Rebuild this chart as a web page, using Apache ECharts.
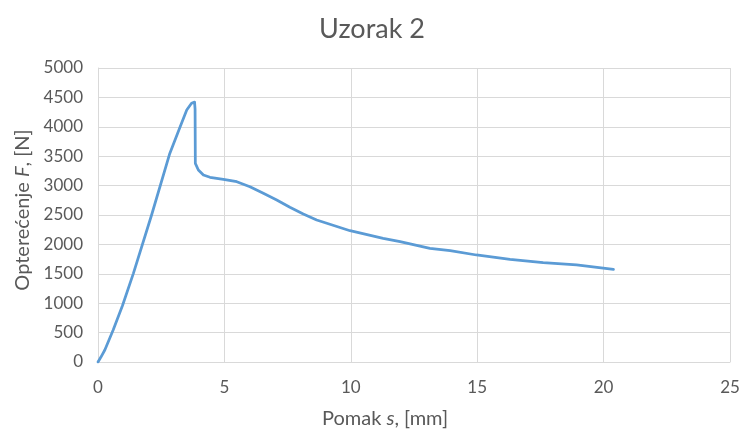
<!DOCTYPE html>
<html>
<head>
<meta charset="utf-8">
<script src="https://cdn.jsdelivr.net/npm/echarts@6/dist/echarts.min.js"></script>
<style>
  html, body { margin: 0; padding: 0; background: #ffffff; }
  #chart { width: 744px; height: 434px; }
</style>
</head>
<body>
<div id="chart"></div>
<script>
// Displacement s [mm] and load F [N] for specimen 2
const displacement = [0, 0.11, 0.27, 0.60, 0.97, 1.40, 2.12, 2.84, 3.25, 3.51, 3.70, 3.77, 3.82, 3.84, 3.85, 3.97, 4.17, 4.43, 4.96, 5.49, 6.01, 6.54, 7.07, 7.59, 8.12, 8.65, 9.05, 9.97, 11.28, 11.95, 13.13, 13.93, 14.97, 16.30, 17.61, 18.93, 20.39];
const load = [0, 80, 204, 544, 960, 1508, 2500, 3548, 4002, 4286, 4400, 4427, 4420, 4300, 3379, 3265, 3180, 3141, 3107, 3066, 2981, 2869, 2755, 2631, 2517, 2415, 2359, 2233, 2103, 2046, 1933, 1893, 1820, 1746, 1689, 1650, 1576];

const xTicks = [0, 5, 10, 15, 20, 25];
const yTicks = [0, 500, 1000, 1500, 2000, 2500, 3000, 3500, 4000, 4500, 5000];

const points = displacement.map((s, i) => [s, load[i]]);
const FONT = 'Lato, "Open Sans", sans-serif';
const TEXT = '#595959';
const GRID = '#d9d9d9';

const chart = echarts.init(document.getElementById('chart'), null, { renderer: 'canvas' });
chart.setOption({
  backgroundColor: '#ffffff',
  animation: false,
  title: {
    text: 'Uzorak 2',
    left: 'center',
    top: 11,
    textStyle: { fontFamily: FONT, fontSize: 27, fontWeight: 'normal', color: TEXT }
  },
  grid: { left: 98, right: 14, top: 68, bottom: 72, containLabel: false },
  xAxis: {
    type: 'value',
    min: xTicks[0],
    max: xTicks[xTicks.length - 1],
    interval: xTicks[1] - xTicks[0],
    name: '{n|Pomak }{i|s}{n|, [mm]}',
    nameLocation: 'middle',
    nameGap: 47,
    nameTextStyle: {
      padding: [0, 58, 0, 0],
      rich: {
        n: { fontFamily: FONT, fontSize: 20, color: TEXT },
        i: { fontFamily: FONT, fontSize: 20, color: TEXT, fontStyle: 'italic' }
      }
    },
    axisLine: { show: true, lineStyle: { color: GRID, width: 1 } },
    axisTick: { show: false },
    axisLabel: { fontFamily: FONT, fontSize: 17, color: TEXT, margin: 17, formatter: v => String(v) },
    splitLine: { show: true, lineStyle: { color: GRID, width: 1 } }
  },
  yAxis: {
    type: 'value',
    min: yTicks[0],
    max: yTicks[yTicks.length - 1],
    interval: yTicks[1] - yTicks[0],
    name: '{n|Optere\u0107enje }{i|F}{n|, [N]}',
    nameLocation: 'middle',
    nameGap: 64,
    nameRotate: 90,
    nameTextStyle: {
      padding: [0, 0, 0, 10],
      rich: {
        n: { fontFamily: FONT, fontSize: 20, color: TEXT },
        i: { fontFamily: FONT, fontSize: 20, color: TEXT, fontStyle: 'italic' }
      }
    },
    axisLine: { show: true, lineStyle: { color: GRID, width: 1 } },
    axisTick: { show: false },
    axisLabel: { fontFamily: FONT, fontSize: 17, color: TEXT, margin: 15, formatter: v => String(v) },
    splitLine: { show: true, lineStyle: { color: GRID, width: 1 } }
  },
  series: [{
    type: 'line',
    data: points,
    showSymbol: false,
    smooth: false,
    lineStyle: { color: '#5b9bd5', width: 2.75, cap: 'round', join: 'round' },
    z: 3
  }]
});
</script>
</body>
</html>
